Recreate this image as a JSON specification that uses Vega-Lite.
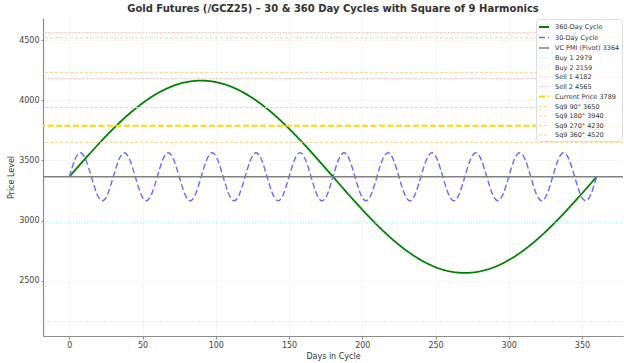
{
  "$schema": "https://vega.github.io/schema/vega-lite/v6.json",
  "autosize": {"type": "none"},
  "padding": {"left": 43, "top": 18, "right": 1, "bottom": 27},
  "width": 580,
  "height": 318,
  "background": "white",
  "title": {"text": "Gold Futures (/GCZ25) – 30 & 360 Day Cycles with Square of 9 Harmonics", "fontSize": 10, "fontWeight": "bold", "font": "DejaVu Sans", "color": "#333333", "offset": 4, "anchor": "middle"},
  "config": {
    "view": {"stroke": null},
    "font": "DejaVu Sans",
    "axis": {"labelFont": "DejaVu Sans", "labelFontSize": 8, "labelColor": "#444444", "titleFont": "DejaVu Sans", "titleFontSize": 8, "titleFontWeight": "normal", "titleColor": "#333333", "domainColor": "#8c8c8c", "domainWidth": 1.2, "tickColor": "#8c8c8c", "gridColor": "#cccccc", "gridOpacity": 0.4, "gridDash": [2, 2], "gridWidth": 0.8},
    "legend": {"labelFont": "DejaVu Sans", "labelFontSize": 6.5, "labelColor": "#333333"}
  },
  "datasets": {
    "curves": [
      {"s": "360-Day Cycle", "d": 0, "y": 3364}, {"s": "360-Day Cycle", "d": 15, "y": 3571}, {"s": "360-Day Cycle", "d": 30, "y": 3764}, {"s": "360-Day Cycle", "d": 45, "y": 3930}, {"s": "360-Day Cycle", "d": 60, "y": 4057}, {"s": "360-Day Cycle", "d": 75, "y": 4137}, {"s": "360-Day Cycle", "d": 90, "y": 4164}, {"s": "360-Day Cycle", "d": 105, "y": 4137}, {"s": "360-Day Cycle", "d": 120, "y": 4057}, {"s": "360-Day Cycle", "d": 135, "y": 3930}, {"s": "360-Day Cycle", "d": 150, "y": 3764}, {"s": "360-Day Cycle", "d": 165, "y": 3571}, {"s": "360-Day Cycle", "d": 180, "y": 3364}, {"s": "360-Day Cycle", "d": 195, "y": 3157}, {"s": "360-Day Cycle", "d": 210, "y": 2964}, {"s": "360-Day Cycle", "d": 225, "y": 2798}, {"s": "360-Day Cycle", "d": 240, "y": 2671}, {"s": "360-Day Cycle", "d": 255, "y": 2591}, {"s": "360-Day Cycle", "d": 270, "y": 2564}, {"s": "360-Day Cycle", "d": 285, "y": 2591}, {"s": "360-Day Cycle", "d": 300, "y": 2671}, {"s": "360-Day Cycle", "d": 315, "y": 2798}, {"s": "360-Day Cycle", "d": 330, "y": 2964}, {"s": "360-Day Cycle", "d": 345, "y": 3157}, {"s": "360-Day Cycle", "d": 360, "y": 3364},
      {"s": "30-Day Cycle", "d": 0, "y": 3364}, {"s": "30-Day Cycle", "d": 3.75, "y": 3505}, {"s": "30-Day Cycle", "d": 7.5, "y": 3564}, {"s": "30-Day Cycle", "d": 11.25, "y": 3505}, {"s": "30-Day Cycle", "d": 15, "y": 3364}, {"s": "30-Day Cycle", "d": 18.75, "y": 3223}, {"s": "30-Day Cycle", "d": 22.5, "y": 3164}, {"s": "30-Day Cycle", "d": 26.25, "y": 3223},
      {"s": "30-Day Cycle", "d": 30, "y": 3364}, {"s": "30-Day Cycle", "d": 33.75, "y": 3505}, {"s": "30-Day Cycle", "d": 37.5, "y": 3564}, {"s": "30-Day Cycle", "d": 41.25, "y": 3505}, {"s": "30-Day Cycle", "d": 45, "y": 3364}, {"s": "30-Day Cycle", "d": 48.75, "y": 3223}, {"s": "30-Day Cycle", "d": 52.5, "y": 3164}, {"s": "30-Day Cycle", "d": 56.25, "y": 3223},
      {"s": "30-Day Cycle", "d": 60, "y": 3364}, {"s": "30-Day Cycle", "d": 63.75, "y": 3505}, {"s": "30-Day Cycle", "d": 67.5, "y": 3564}, {"s": "30-Day Cycle", "d": 71.25, "y": 3505}, {"s": "30-Day Cycle", "d": 75, "y": 3364}, {"s": "30-Day Cycle", "d": 78.75, "y": 3223}, {"s": "30-Day Cycle", "d": 82.5, "y": 3164}, {"s": "30-Day Cycle", "d": 86.25, "y": 3223},
      {"s": "30-Day Cycle", "d": 90, "y": 3364}, {"s": "30-Day Cycle", "d": 93.75, "y": 3505}, {"s": "30-Day Cycle", "d": 97.5, "y": 3564}, {"s": "30-Day Cycle", "d": 101.25, "y": 3505}, {"s": "30-Day Cycle", "d": 105, "y": 3364}, {"s": "30-Day Cycle", "d": 108.75, "y": 3223}, {"s": "30-Day Cycle", "d": 112.5, "y": 3164}, {"s": "30-Day Cycle", "d": 116.25, "y": 3223},
      {"s": "30-Day Cycle", "d": 120, "y": 3364}, {"s": "30-Day Cycle", "d": 123.75, "y": 3505}, {"s": "30-Day Cycle", "d": 127.5, "y": 3564}, {"s": "30-Day Cycle", "d": 131.25, "y": 3505}, {"s": "30-Day Cycle", "d": 135, "y": 3364}, {"s": "30-Day Cycle", "d": 138.75, "y": 3223}, {"s": "30-Day Cycle", "d": 142.5, "y": 3164}, {"s": "30-Day Cycle", "d": 146.25, "y": 3223},
      {"s": "30-Day Cycle", "d": 150, "y": 3364}, {"s": "30-Day Cycle", "d": 153.75, "y": 3505}, {"s": "30-Day Cycle", "d": 157.5, "y": 3564}, {"s": "30-Day Cycle", "d": 161.25, "y": 3505}, {"s": "30-Day Cycle", "d": 165, "y": 3364}, {"s": "30-Day Cycle", "d": 168.75, "y": 3223}, {"s": "30-Day Cycle", "d": 172.5, "y": 3164}, {"s": "30-Day Cycle", "d": 176.25, "y": 3223},
      {"s": "30-Day Cycle", "d": 180, "y": 3364}, {"s": "30-Day Cycle", "d": 183.75, "y": 3505}, {"s": "30-Day Cycle", "d": 187.5, "y": 3564}, {"s": "30-Day Cycle", "d": 191.25, "y": 3505}, {"s": "30-Day Cycle", "d": 195, "y": 3364}, {"s": "30-Day Cycle", "d": 198.75, "y": 3223}, {"s": "30-Day Cycle", "d": 202.5, "y": 3164}, {"s": "30-Day Cycle", "d": 206.25, "y": 3223},
      {"s": "30-Day Cycle", "d": 210, "y": 3364}, {"s": "30-Day Cycle", "d": 213.75, "y": 3505}, {"s": "30-Day Cycle", "d": 217.5, "y": 3564}, {"s": "30-Day Cycle", "d": 221.25, "y": 3505}, {"s": "30-Day Cycle", "d": 225, "y": 3364}, {"s": "30-Day Cycle", "d": 228.75, "y": 3223}, {"s": "30-Day Cycle", "d": 232.5, "y": 3164}, {"s": "30-Day Cycle", "d": 236.25, "y": 3223},
      {"s": "30-Day Cycle", "d": 240, "y": 3364}, {"s": "30-Day Cycle", "d": 243.75, "y": 3505}, {"s": "30-Day Cycle", "d": 247.5, "y": 3564}, {"s": "30-Day Cycle", "d": 251.25, "y": 3505}, {"s": "30-Day Cycle", "d": 255, "y": 3364}, {"s": "30-Day Cycle", "d": 258.75, "y": 3223}, {"s": "30-Day Cycle", "d": 262.5, "y": 3164}, {"s": "30-Day Cycle", "d": 266.25, "y": 3223},
      {"s": "30-Day Cycle", "d": 270, "y": 3364}, {"s": "30-Day Cycle", "d": 273.75, "y": 3505}, {"s": "30-Day Cycle", "d": 277.5, "y": 3564}, {"s": "30-Day Cycle", "d": 281.25, "y": 3505}, {"s": "30-Day Cycle", "d": 285, "y": 3364}, {"s": "30-Day Cycle", "d": 288.75, "y": 3223}, {"s": "30-Day Cycle", "d": 292.5, "y": 3164}, {"s": "30-Day Cycle", "d": 296.25, "y": 3223},
      {"s": "30-Day Cycle", "d": 300, "y": 3364}, {"s": "30-Day Cycle", "d": 303.75, "y": 3505}, {"s": "30-Day Cycle", "d": 307.5, "y": 3564}, {"s": "30-Day Cycle", "d": 311.25, "y": 3505}, {"s": "30-Day Cycle", "d": 315, "y": 3364}, {"s": "30-Day Cycle", "d": 318.75, "y": 3223}, {"s": "30-Day Cycle", "d": 322.5, "y": 3164}, {"s": "30-Day Cycle", "d": 326.25, "y": 3223},
      {"s": "30-Day Cycle", "d": 330, "y": 3364}, {"s": "30-Day Cycle", "d": 333.75, "y": 3505}, {"s": "30-Day Cycle", "d": 337.5, "y": 3564}, {"s": "30-Day Cycle", "d": 341.25, "y": 3505}, {"s": "30-Day Cycle", "d": 345, "y": 3364}, {"s": "30-Day Cycle", "d": 348.75, "y": 3223}, {"s": "30-Day Cycle", "d": 352.5, "y": 3164}, {"s": "30-Day Cycle", "d": 356.25, "y": 3223},
      {"s": "30-Day Cycle", "d": 360, "y": 3364}
    ],
    "levels": [
      {"s": "VC PMI (Pivot) 3364", "y": 3364},
      {"s": "Buy 1 2979", "y": 2979},
      {"s": "Buy 2 2159", "y": 2159},
      {"s": "Sell 1 4182", "y": 4182},
      {"s": "Sell 2 4565", "y": 4565},
      {"s": "Current Price 3789", "y": 3789},
      {"s": "Sq9 90° 3650", "y": 3650},
      {"s": "Sq9 180° 3940", "y": 3940},
      {"s": "Sq9 270° 4230", "y": 4230},
      {"s": "Sq9 360° 4520", "y": 4520}
    ]
  },
  "encoding": {
    "color": {"field": "s", "type": "nominal", "scale": {"domain": ["360-Day Cycle", "30-Day Cycle", "VC PMI (Pivot) 3364", "Buy 1 2979", "Buy 2 2159", "Sell 1 4182", "Sell 2 4565", "Current Price 3789", "Sq9 90° 3650", "Sq9 180° 3940", "Sq9 270° 4230", "Sq9 360° 4520"], "range": ["#008000", "#6868ff", "#808080", "#80ffff", "#80ffff", "#ffaaaa", "#ffaaaa", "#ffd700", "#fbd38d", "#fbd38d", "#fbd38d", "#fbd38d"]}, "legend": {"title": null, "orient": "top-right", "offset": 1, "symbolType": "stroke", "symbolSize": 100, "rowPadding": 0.5, "padding": 2, "labelOffset": 5, "fillColor": "rgba(255,255,255,0.85)", "strokeColor": "#dddddd", "cornerRadius": 3}},
    "strokeDash": {"field": "s", "type": "nominal", "scale": {"domain": ["360-Day Cycle", "30-Day Cycle", "VC PMI (Pivot) 3364", "Buy 1 2979", "Buy 2 2159", "Sell 1 4182", "Sell 2 4565", "Current Price 3789", "Sq9 90° 3650", "Sq9 180° 3940", "Sq9 270° 4230", "Sq9 360° 4520"], "range": [[1, 0], [6, 3], [1, 0], [1.2, 1.6], [1.2, 1.6], [1.2, 1.6], [1.2, 1.6], [6, 2.5], [3, 2], [3, 2], [3, 2], [3, 2]]}, "legend": {"title": null}},
    "strokeWidth": {"field": "s", "type": "nominal", "scale": {"type": "ordinal", "domain": ["360-Day Cycle", "30-Day Cycle", "VC PMI (Pivot) 3364", "Buy 1 2979", "Buy 2 2159", "Sell 1 4182", "Sell 2 4565", "Current Price 3789", "Sq9 90° 3650", "Sq9 180° 3940", "Sq9 270° 4230", "Sq9 360° 4520"], "range": [1.8, 1.4, 1.5, 1, 1, 1, 1, 2, 1, 1, 1, 1]}, "legend": {"title": null}},
    "y": {"field": "y", "type": "quantitative", "title": "Price Level", "scale": {"domain": [2039, 4685], "nice": false, "zero": false}, "axis": {"values": [2500, 3000, 3500, 4000, 4500], "format": "d", "tickSize": 2, "labelPadding": 2, "titlePadding": 3}}
  },
  "layer": [
    {
      "data": {"name": "curves"},
      "mark": {"type": "line", "interpolate": "natural", "clip": true},
      "encoding": {
        "x": {"field": "d", "type": "quantitative", "title": "Days in Cycle", "scale": {"domain": [-18, 378], "nice": false, "zero": false}, "axis": {"values": [0, 50, 100, 150, 200, 250, 300, 350], "tickSize": 3, "labelPadding": 2, "titlePadding": 3}}
      }
    },
    {
      "data": {"name": "levels"},
      "mark": {"type": "rule", "clip": true},
      "encoding": {}
    }
  ]
}
